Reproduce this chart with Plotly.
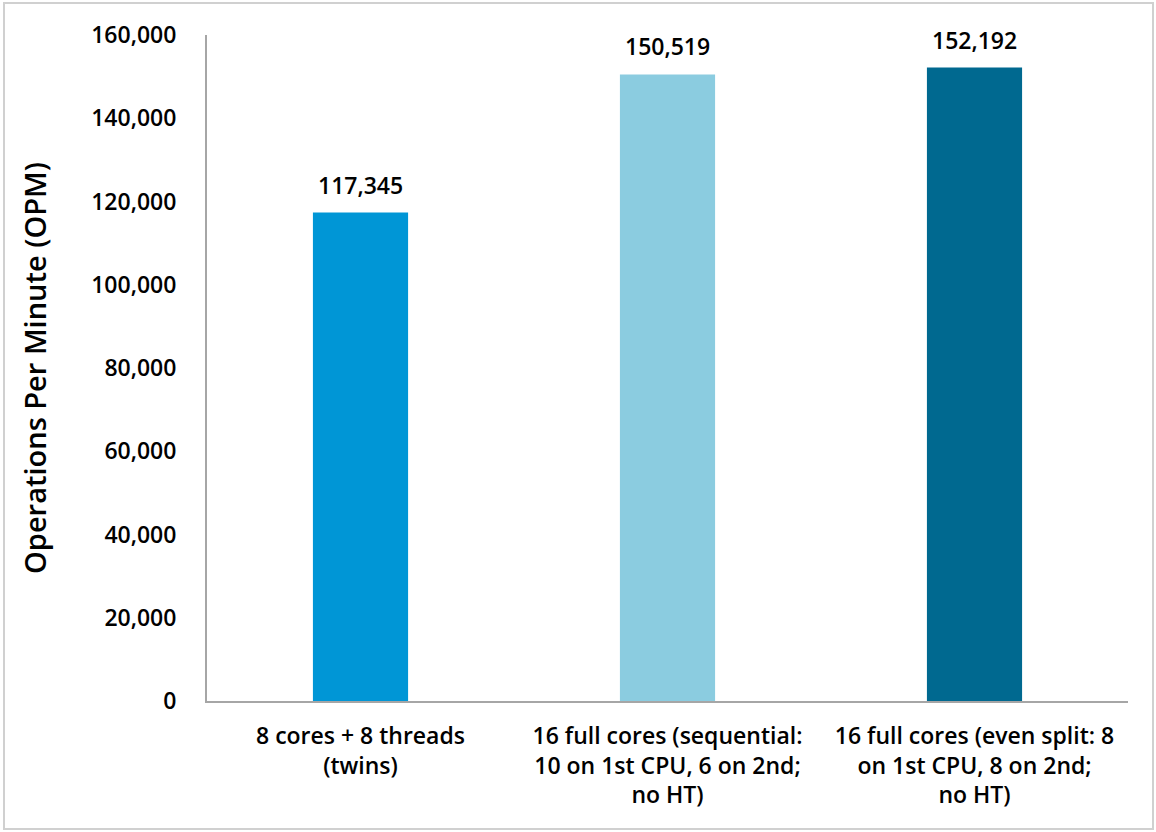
import plotly.graph_objects as go

categories = [
    "8 cores + 8 threads<br>(twins)",
    "16 full cores (sequential:<br>10 on 1st CPU, 6 on 2nd;<br>no HT)",
    "16 full cores (even split: 8<br>on 1st CPU, 8 on 2nd;<br>no HT)",
]
values = [117345, 150519, 152192]
colors = ["#0096D6", "#8BCCE0", "#006990"]
y_ticks = [0, 20000, 40000, 60000, 80000, 100000, 120000, 140000, 160000]

FONT = "Open Sans"
W = 600

fig = go.Figure(
    go.Bar(
        x=categories,
        y=values,
        marker=dict(color=colors, line=dict(width=0)),
        width=0.31,
        cliponaxis=False,
    )
)

for c, v in zip(categories, values):
    fig.add_annotation(
        x=c, y=v, text=f"{v:,}", showarrow=False,
        yanchor="bottom", yshift=10,
        font=dict(family=FONT, size=23, color="#000000", weight=W),
    )

fig.update_layout(
    width=1156,
    height=832,
    margin=dict(l=207, r=28, t=35, b=131),
    plot_bgcolor="white",
    paper_bgcolor="white",
    showlegend=False,
    font=dict(family=FONT, color="#000000"),
)

fig.update_xaxes(
    showline=True,
    linecolor="#A6A6A6",
    linewidth=2,
    ticks="",
    ticklabelstandoff=13,
    tickfont=dict(family=FONT, size=23, color="#000000", weight=W),
    showgrid=False,
)
fig.update_yaxes(
    range=[0, 160000],
    tickvals=y_ticks,
    ticktext=[f"{v:,}" for v in y_ticks],
    showline=True,
    linecolor="#A6A6A6",
    linewidth=2,
    showgrid=False,
    zeroline=False,
    ticks="",
    ticklabelstandoff=24,
    tickfont=dict(family=FONT, size=23, color="#000000", weight=W),
    title=dict(text="Operations Per Minute (OPM)", font=dict(family=FONT, size=29, color="#000000", weight=W), standoff=36),
)

fig.add_shape(
    type="rect",
    xref="paper",
    yref="paper",
    x0=(4 - 207) / 921,
    x1=(1153 - 207) / 921,
    y0=(701 - 829) / 666,
    y1=(701 - 3) / 666,
    line=dict(color="#D0D0D0", width=2),
    fillcolor="rgba(0,0,0,0)",
    layer="below",
)

fig.write_html("out.html")
